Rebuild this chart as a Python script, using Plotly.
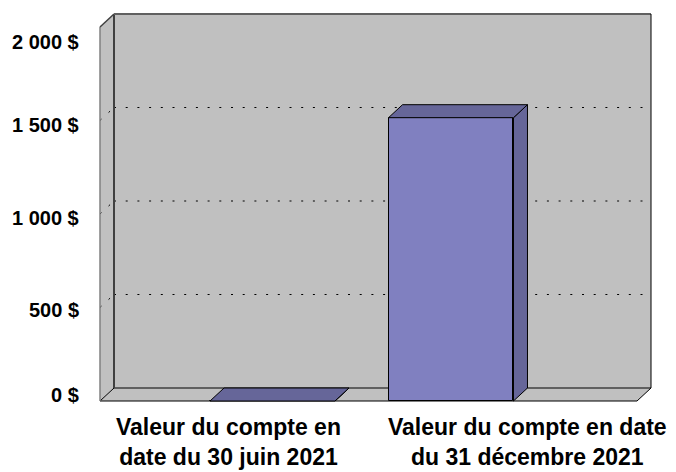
import plotly.graph_objects as go

# ---------------- data ----------------
categories = ["Valeur du compte en<br>date du 30 juin 2021",
              "Valeur du compte en date<br>du 31 décembre 2021"]
values = [0, 1515]
tick_values = [0, 500, 1000, 1500, 2000]
tick_labels = ["0 $", "500 $", "1 000 $", "1 500 $", "2 000 $"]

# ---------------- layout geometry (pixel calibration, window coords) ----------------
OFF = 8                      # default page body margin
WIN_W, WIN_H = 676, 472
W, H = WIN_W - OFF, WIN_H - OFF
ML, MR, MT, MB = 82, 2, 0, 54   # in figure pixels
PX_X = 178.5      # pixels per category unit
X0PX = 272.5 - OFF
PX_Y = 0.187      # pixels per value unit
Y0PX = 401 - OFF

def ux(px_win):
    return (px_win - OFF - X0PX) / PX_X

DX = 14 / PX_X
DY = 13 / PX_Y
BAR_W = 0.70
WALL_X0 = ux(100)
WALL_X1 = ux(637)
Y_MAX = tick_values[-1]

x_range = [(ML - X0PX) / PX_X, (W - MR - X0PX) / PX_X]
y_range = [(Y0PX - (H - MB)) / PX_Y, (Y0PX - MT) / PX_Y]
plot_w = W - ML - MR
plot_h = H - MT - MB

WALL = "#C0C0C0"
FRONT = "#8080C0"
SIDE = "#666699"
FONT = "Arial, Liberation Sans, sans-serif"

fig = go.Figure()

shapes = []
def poly(pts, fill, line_color=None, width=0):
    path = "M " + " L ".join(f"{x},{y}" for x, y in pts) + " Z"
    shapes.append(dict(type="path", xref="x", yref="y", path=path, fillcolor=fill,
                       layer="below", line=dict(width=width, color=line_color or fill)))

def seg(x0, y0, x1, y1, color, width=1, dash="solid"):
    shapes.append(dict(type="line", xref="x", yref="y", x0=x0, y0=y0, x1=x1, y1=y1,
                       layer="below", line=dict(color=color, width=width, dash=dash)))

# back wall
poly([(WALL_X0 + DX, DY), (WALL_X1 + DX, DY), (WALL_X1 + DX, Y_MAX + DY),
      (WALL_X0 + DX, Y_MAX + DY)], WALL)
# side wall
poly([(WALL_X0, 0), (WALL_X0, Y_MAX), (WALL_X0 + DX, Y_MAX + DY), (WALL_X0 + DX, DY)], WALL)
# floor
poly([(WALL_X0, 0), (WALL_X1, 0), (WALL_X1 + DX, DY), (WALL_X0 + DX, DY)], WALL, "#000000", 1)

# gridlines
for v in tick_values[1:-1]:
    seg(WALL_X0 + DX, v + DY, WALL_X1 + DX - 0.02, v + DY, "#000000", 1, "2px,9.7px")
    seg(WALL_X0, v, WALL_X0 + DX, v + DY, "#000000", 1, "2px,9.7px")

# wall edges
seg(WALL_X0, 0, WALL_X0, Y_MAX, "#808080", 1.5)
seg(WALL_X0, Y_MAX, WALL_X0 + DX, Y_MAX + DY, "#404040", 1.5)
seg(WALL_X0 + DX, DY, WALL_X0 + DX, Y_MAX + DY, "#404040", 2)
seg(WALL_X0 + DX, Y_MAX + DY, WALL_X1 + DX, Y_MAX + DY, "#606060", 2)
seg(WALL_X1 + DX, DY, WALL_X1 + DX, Y_MAX + DY, "#000000", 1)

# front faces of bars
xs = list(range(len(values)))
fig.add_trace(go.Bar(x=xs, y=values, width=BAR_W,
                     marker=dict(color=FRONT, line=dict(color="#000000", width=1)),
                     hoverinfo="skip", showlegend=False))

# top and side faces
for i, v in enumerate(values):
    xl, xr = i - BAR_W / 2, i + BAR_W / 2
    fig.add_trace(go.Scatter(
        x=[xr, xr + DX, xr + DX, xr, xr], y=[v, v + DY, DY, 0, v],
        fill="toself", fillcolor=SIDE, mode="lines",
        line=dict(color="#000000", width=1), hoverinfo="skip", showlegend=False))
    fig.add_trace(go.Scatter(
        x=[xl, xr, xr + DX, xl + DX, xl], y=[v, v, v + DY, v + DY, v],
        fill="toself", fillcolor=SIDE, mode="lines",
        line=dict(color="#000000", width=1), hoverinfo="skip", showlegend=False))

annotations = []
# y-axis labels (window pixel x of right edge: 81)
YLABEL_SHIFT = [5.6, -2.5, -4, -4.5, -14.5]
for tv, tl, sh in zip(tick_values, tick_labels, YLABEL_SHIFT):
    annotations.append(dict(xref="paper", yref="y", x=(81 - OFF - ML) / plot_w, y=tv,
                            xanchor="right", yanchor="middle", yshift=sh,
                            text=f"<b>{tl}</b>", showarrow=False,
                            font=dict(family=FONT, size=20, color="#000000")))
# category labels (window pixel centres)
XLABEL_PX = [228, 527]
XLABEL_Y = 442
for c, px in zip(categories, XLABEL_PX):
    annotations.append(dict(xref="paper", yref="paper", x=(px - OFF - ML) / plot_w,
                            y=((H - MB) - (XLABEL_Y - OFF)) / plot_h,
                            xanchor="center", yanchor="middle",
                            text=f"<b>{c}</b>", showarrow=False,
                            font=dict(family=FONT, size=23, color="#000000")))

fig.update_layout(
    width=W, height=H,
    margin=dict(l=ML, r=MR, t=MT, b=MB, pad=0),
    paper_bgcolor="#FFFFFF", plot_bgcolor="#FFFFFF",
    shapes=shapes, annotations=annotations,
    xaxis=dict(range=x_range, visible=False, fixedrange=True),
    yaxis=dict(range=y_range, visible=False, fixedrange=True),
    bargap=0, showlegend=False,
)

fig.write_html("out.html")
